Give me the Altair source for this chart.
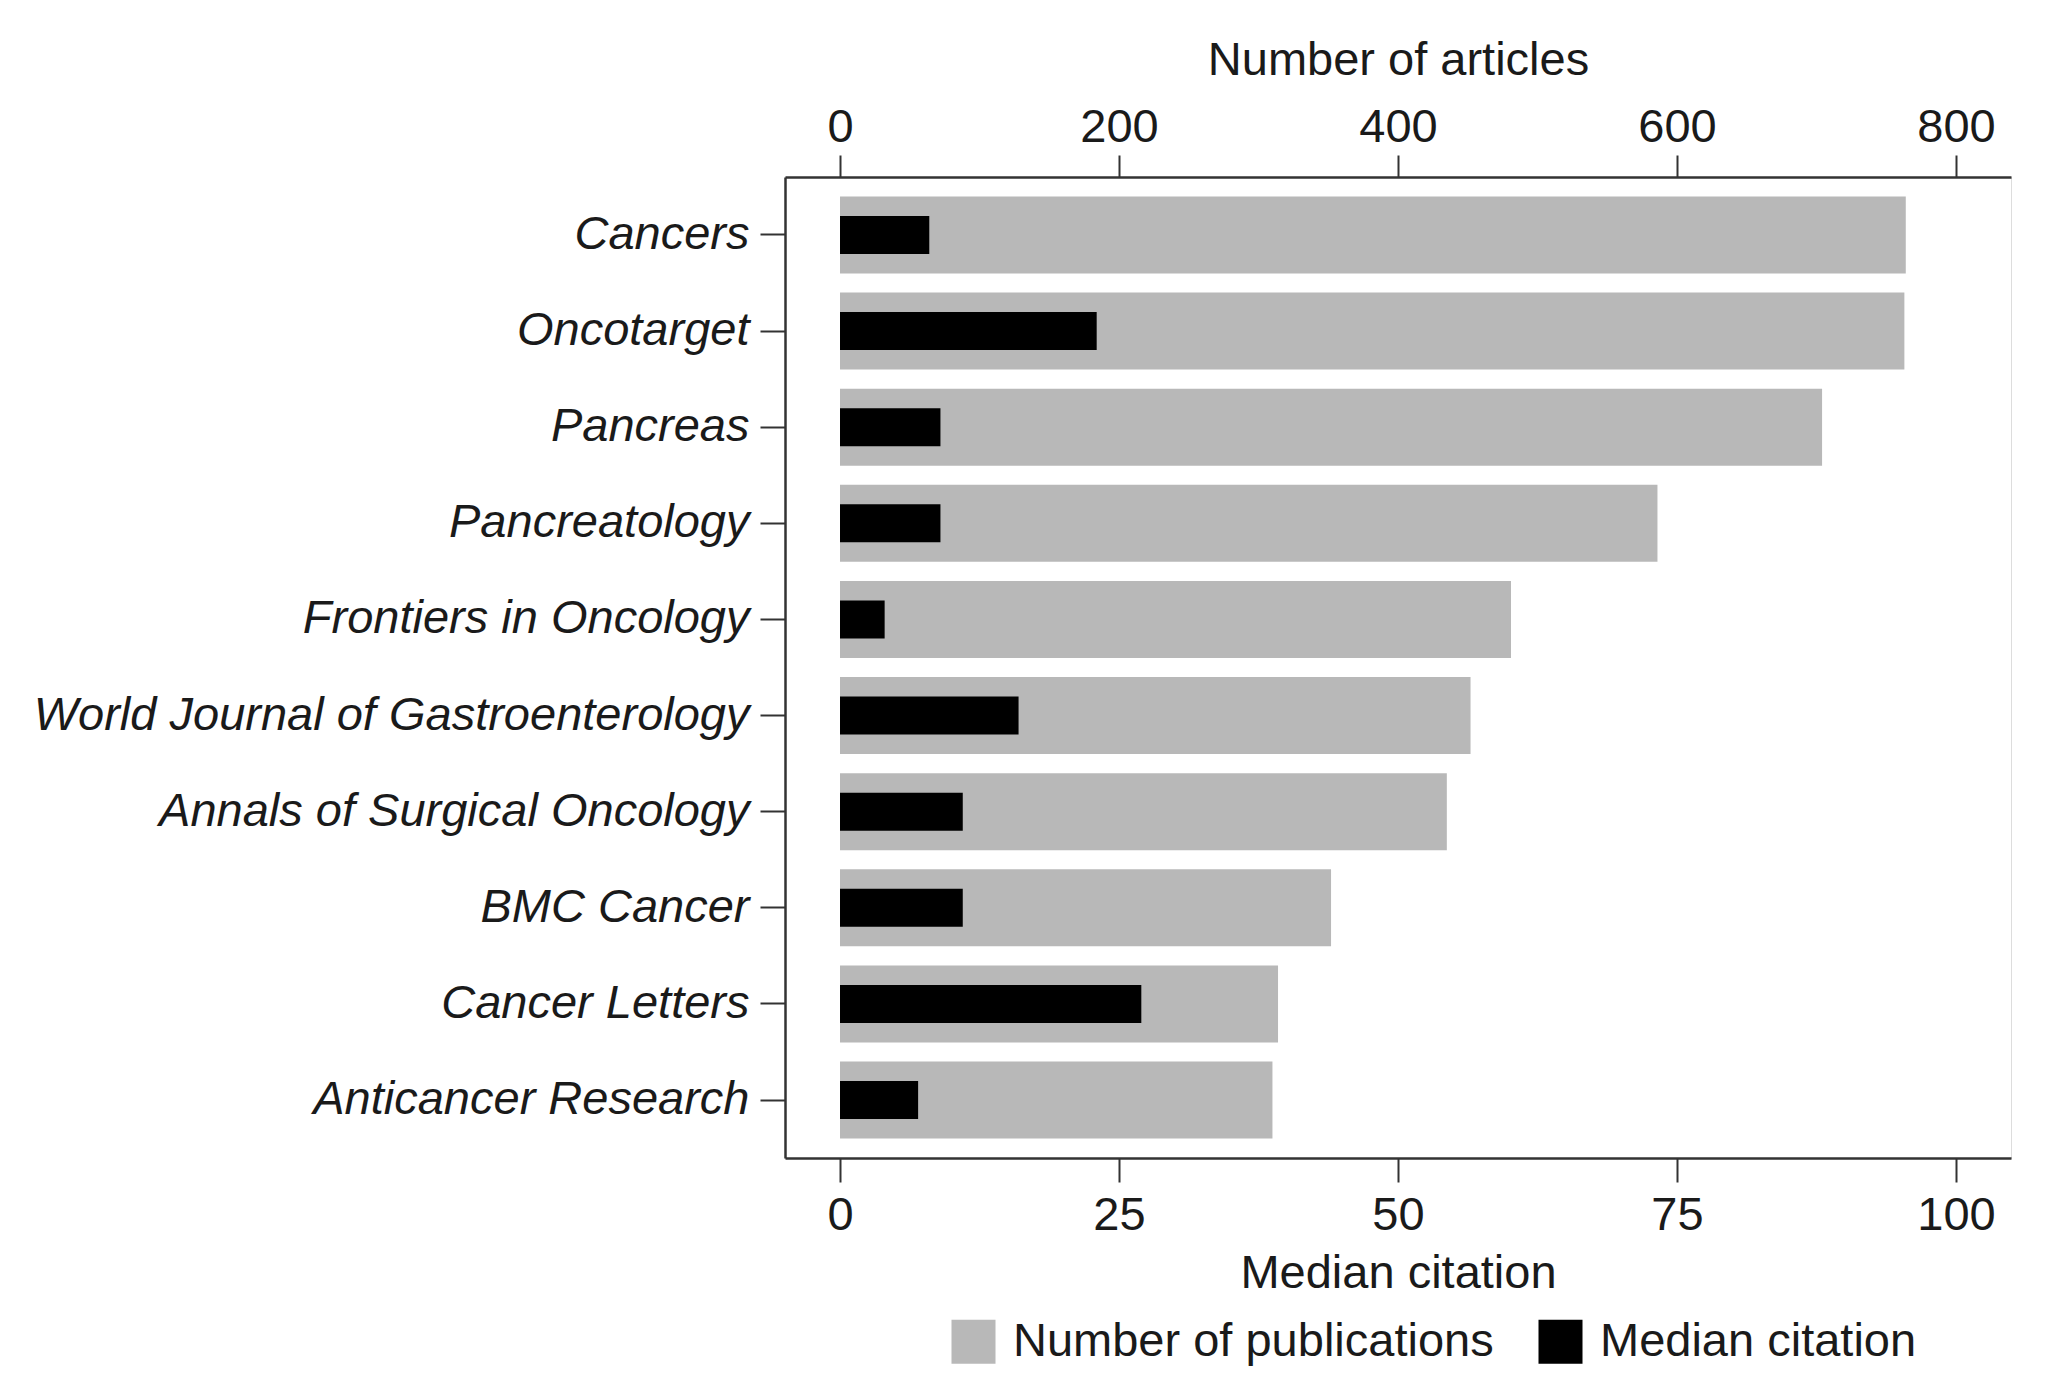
import altair as alt
import pandas as pd

journals = [
    "Cancers",
    "Oncotarget",
    "Pancreas",
    "Pancreatology",
    "Frontiers in Oncology",
    "World Journal of Gastroenterology",
    "Annals of Surgical Oncology",
    "BMC Cancer",
    "Cancer Letters",
    "Anticancer Research",
]
publications = [764, 763, 704, 586, 481, 452, 435, 352, 314, 310]
median_citation = [8, 23, 9, 9, 4, 16, 11, 11, 27, 7]

article_ticks = [0, 200, 400, 600, 800]
citation_ticks = [0, 25, 50, 75, 100]
legend_labels = ["Number of publications", "Median citation"]
legend_colors = ["#b8b8b8", "#000000"]

df = pd.DataFrame({
    "journal": journals,
    "publications": publications,
    "citation": median_citation,
})

FONT = "Liberation Sans"
FS = 47
INK = "#1a1a1a"
LINE = "#333333"

yenc = alt.Y(
    "journal:N",
    sort=journals,
    scale=alt.Scale(paddingInner=0, paddingOuter=0.103),
    axis=alt.Axis(
        title=None,
        labelFontStyle="italic",
        labelFontSize=FS,
        labelFont=FONT,
        labelColor=INK,
        labelPadding=11,
        labelLimit=1200,
        tickSize=25,
        tickWidth=2,
        tickColor=LINE,
        domainColor=LINE,
        domainWidth=2.5,
        grid=False,
    ),
)

color_scale = alt.Scale(domain=legend_labels, range=legend_colors)
legend = alt.Legend(
    orient="none",
    legendX=165,
    legendY=1141,
    direction="horizontal",
    title=None,
    symbolType="square",
    symbolSize=1936,
    symbolStrokeWidth=0,
    symbolOpacity=1,
    labelFontSize=FS,
    labelFont=FONT,
    labelColor=INK,
    labelOffset=16,
    columnPadding=43,
    padding=0,
    labelLimit=1000,
)

gray = alt.Chart(df).mark_bar(size=77).encode(
    y=yenc,
    x=alt.X(
        "publications:Q",
        scale=alt.Scale(domain=[-39.43, 839.43], nice=False, zero=False),
        axis=alt.Axis(
            orient="top",
            title="Number of articles",
            values=article_ticks,
            format="d",
            grid=False,
            tickSize=22,
            tickWidth=2,
            tickColor=LINE,
            domainColor=LINE,
            domainWidth=2.5,
            labelFontSize=FS,
            labelFont=FONT,
            labelColor=INK,
            labelPadding=4,
            labelFlush=False,
            labelOverlap=False,
            titleFontSize=FS,
            titleFont=FONT,
            titleFontWeight="normal",
            titleColor=INK,
            titleBaseline="alphabetic",
            titleY=-103,
        ),
    ),
    x2=alt.datum(0),
    color=alt.Color("series:N", scale=color_scale, legend=legend),
).transform_calculate(series="'Number of publications'")

black = alt.Chart(df).mark_bar(size=38).encode(
    y=yenc,
    x=alt.X(
        "citation:Q",
        scale=alt.Scale(domain=[-4.929, 104.929], nice=False, zero=False),
        axis=alt.Axis(
            orient="bottom",
            title="Median citation",
            values=citation_ticks,
            format="d",
            grid=False,
            tickSize=24,
            tickWidth=2,
            tickColor=LINE,
            domainColor=LINE,
            domainWidth=2.5,
            labelFontSize=FS,
            labelFont=FONT,
            labelColor=INK,
            labelPadding=10,
            labelFlush=False,
            labelOverlap=False,
            titleFontSize=FS,
            titleFont=FONT,
            titleFontWeight="normal",
            titleColor=INK,
            titleBaseline="alphabetic",
            titleY=129,
        ),
    ),
    x2=alt.datum(0),
    color=alt.Color("series:N", scale=color_scale, legend=legend),
).transform_calculate(series="'Median citation'")

chart = (
    alt.layer(gray, black)
    .resolve_scale(x="independent")
    .properties(
        width=1226,
        height=981,
        autosize=alt.AutoSizeParams(type="none"),
        padding={"left": 777, "top": 169, "right": 20, "bottom": 228},
    )
    .configure_view(stroke=None)
    .configure(background="white")
)

chart.save("out.html", embed_options={"renderer": "svg", "actions": False})
